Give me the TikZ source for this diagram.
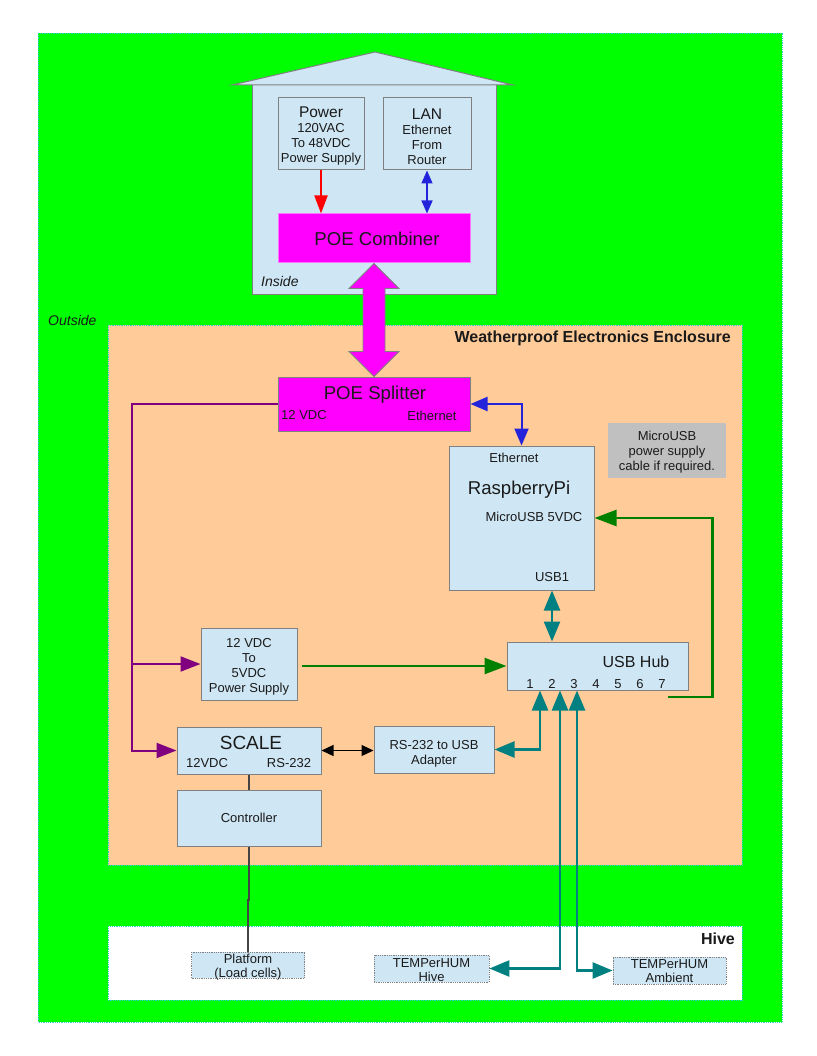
\documentclass[tikz,border=0pt]{standalone}
\usepackage{fontspec}
\setmainfont{Liberation Sans}
\usetikzlibrary{arrows.meta,calc}
\definecolor{bggreen}{HTML}{00FF00}
\definecolor{peach}{HTML}{FFCC99}
\definecolor{lblue}{HTML}{CFE7F5}
\definecolor{mag}{HTML}{FF00FF}
\definecolor{pinkb}{HTML}{FF77FF}
\definecolor{notec}{HTML}{C0C0C0}
\definecolor{purp}{HTML}{800080}
\definecolor{dgreen}{HTML}{008000}
\definecolor{tealc}{HTML}{008080}
\definecolor{blu}{HTML}{2323DC}
\definecolor{bord}{HTML}{808080}
\definecolor{dotc}{HTML}{33CCCC}
\definecolor{txt}{HTML}{1A1A1A}
\definecolor{glc}{HTML}{444444}
\newcommand\dgsm{\fontsize{13}{15}\selectfont}
\newcommand\dgtight{\fontsize{13}{14}\selectfont}
\newcommand\dgmd{\fontsize{15.5}{17}\selectfont}
\newcommand\dghub{\fontsize{16}{18}\selectfont}
\newcommand\dgbg{\fontsize{18.6}{22}\selectfont}
\newcommand\dgsc{\fontsize{19}{22}\selectfont}
\newcommand\dgit{\fontsize{14}{16}\selectfont\itshape}
\newcommand\dgbold{\fontsize{16}{18}\selectfont\bfseries}
\begin{document}
\begin{tikzpicture}[x=1pt,y=-1pt,
  box/.style={draw=bord, fill=lblue, line width=1pt, inner sep=0pt, align=center, font=\dgsm, text=txt},
  magbox/.style={draw=pinkb, fill=mag, line width=1pt, inner sep=0pt, text=txt},
  dbox/.style={draw=bord, densely dotted, fill=lblue, line width=0.8pt, inner sep=0pt, align=center, font=\dgtight, text=txt},
  lbl/.style={inner sep=0pt, font=\dgsm, text=txt, align=center},
  area/.style={draw=dotc, densely dotted, line width=0.8pt},
  redarr/.style={draw=red, line width=2pt, -{Triangle[length=18pt,width=13pt,fill=red]}},
  bluearr/.style={draw=blu, line width=1.5pt, {Triangle[length=13pt,width=11pt]}-{Triangle[length=13pt,width=11pt]}},
  bluebig/.style={draw=blu, line width=2pt, {Triangle[length=17pt,width=14pt]}-{Triangle[length=17pt,width=14pt]}},
  purarr/.style={draw=purp, line width=2pt, -{Triangle[length=20pt,width=15pt]}},
  grnarr/.style={draw=dgreen, line width=2.5pt, -{Triangle[length=22pt,width=16pt]}},
  tealarr/.style={draw=tealc, line width=2.5pt, {Triangle[length=20pt,width=16pt]}-{Triangle[length=20pt,width=16pt]}},
  blkarr/.style={draw=black, line width=1.2pt, {Triangle[length=12pt,width=11pt]}-{Triangle[length=12pt,width=11pt]}},
  gline/.style={draw=glc, line width=2pt}
]
\useasboundingbox (0,0) rectangle (816,1056);
\fill[white] (0,0) rectangle (816,1056);
% outside area
\draw[area, fill=bggreen] (38,33) rectangle (782,1022);
\node[lbl, font=\dgit, anchor=west] (outside) at (48,320) {Outside};
% house
\draw[draw=bord, fill=lblue, line width=1pt] (252,85) rectangle (496,294);
\draw[draw=bord, fill=lblue, line width=1pt] (232,85) -- (375,52) -- (513,85) -- cycle;
\node[box, minimum width=86pt, minimum height=72pt] (power) at (321,134) {};
\node[lbl] (powerT) at (321,136.5) {{\dgmd Power}\\120VAC\\To 48VDC\\Power Supply};
\node[box, minimum width=88pt, minimum height=72pt] (lan) at (427,134) {};
\node[lbl] (lanT) at (427,136.5) {{\dgmd LAN}\\Ethernet\\From\\Router};
\node[magbox, minimum width=192pt, minimum height=49pt, font=\dgbg] (comb) at (374,238.5) {\hspace{6pt}POE Combiner};
\node[lbl, font=\dgit, anchor=west] (inside) at (261,281) {Inside};
\draw[redarr] (power.south) -- (power.south |- comb.north);
\draw[bluearr] (lan.south) -- (lan.south |- comb.north);
% enclosure
\draw[area, fill=peach] (108,325) rectangle (742,865);
\node[lbl, font=\dgbold, anchor=north east] (enct) at (731,331) {Weatherproof Electronics Enclosure};
\node[magbox, draw=bord, minimum width=192pt, minimum height=54pt] (split) at (374,404) {};
\node[lbl, font=\dgbg] (splitT) at (375,395) {POE Splitter};
\node[lbl] (split12) at (304,415) {12 VDC};
\node[lbl] (splitE) at (432,416) {Ethernet};
% big double arrow
\draw[draw=bord, fill=mag, line width=0.8pt] (comb.south) -- ++(25,25) -- ++(-14,0)
  -- ($(split.north)+(11,-25)$) -- ++(14,0) -- (split.north) -- ++(-25,-25) -- ++(14,0)
  -- ($(comb.south)+(-11,25)$) -- ++(-14,0) -- cycle;
% note
\node[lbl, fill=notec, minimum width=118pt, minimum height=55pt] (note) at (667,450.5) {};
\node[lbl] (noteT) at (667,452) {MicroUSB\\power supply\\cable if required.};
% raspberry pi
\node[box, minimum width=145pt, minimum height=144pt] (rpi) at (521.5,518) {};
\node[lbl] (rpiE) at (514,458) {Ethernet};
\node[lbl, font=\dgbg] (rpiT) at (519,490) {RaspberryPi};
\node[lbl] (rpiM) at (534,517) {MicroUSB 5VDC};
\node[lbl] (rpiU) at (552,577) {USB1};
\draw[bluebig] (split.east) -| (rpi.north);
% usb hub
\node[box, minimum width=181pt, minimum height=48pt] (hub) at (597.5,666) {};
\node[lbl, font=\dghub] (hubT) at (636,662) {USB Hub};
\foreach \i/\x in {1/530,2/552,3/574,4/596,5/618,6/640,7/662}
  \node[lbl] (port\i) at (\x,684) {\i};
\draw[tealarr] (rpi.south -| rpiU) -- (hub.north -| rpiU);
\coordinate (g7) at (668,697);
\draw[grnarr] (g7) -| ($(rpi.east)+(118,0)$) -- (rpi.east);
% psu
\node[box, minimum width=96pt, minimum height=72pt] (psu) at (249,664) {};
\node[lbl] (psuT) at (249,667) {12 VDC\\To\\5VDC\\Power Supply};
\draw[grnarr, shorten <=4pt] (psu.east |- hub.west) -- (hub.west);
% scale
\node[box, minimum width=144pt, minimum height=47pt] (scale) at (249,750.5) {};
\node[lbl, font=\dgsc] (scT) at (251,743) {SCALE};
\node[lbl] (sc12) at (207,763) {12VDC};
\node[lbl] (scR) at (289,763) {RS-232};
\node[box, minimum width=120pt, minimum height=47pt] (rs) at (434,749.5) {};
\node[lbl] (rsT) at (434,753.5) {RS-232 to USB\\Adapter};
\draw[blkarr] (scale.east) -- (scale.east -| rs.west);
% purple power lines
\coordinate (pj) at (132,404);
\draw[purarr] (split.west) -- (pj) |- (scale.west);
\draw[purarr] (pj |- psu.west) -- (psu.west);
% controller
\node[box, minimum width=144pt, minimum height=56pt] (ctrl) at (249,818) {Controller};
\draw[gline] (scale.south) -- (ctrl.north);
% hive
\draw[area, fill=white] (108,926) rectangle (742,1000);
\node[lbl, font=\dgbold, anchor=north east] (hivet) at (735,933) {Hive};
\node[dbox, minimum width=113pt, minimum height=26pt] (plat) at (248,965) {};
\node[lbl, font=\dgtight] (platT) at (248,967) {Platform\\(Load cells)};
\node[dbox, minimum width=115pt, minimum height=27pt] (thive) at (431.5,968.5) {};
\node[lbl, font=\dgtight] (thiveT) at (431.5,970) {TEMPerHUM\\Hive};
\node[dbox, minimum width=113pt, minimum height=27pt] (tamb) at (669.5,970.5) {};
\node[lbl, font=\dgtight] (tambT) at (669.5,971.5) {TEMPerHUM\\Ambient};
\draw[gline] (ctrl.south) -- ++(0,53) -| (plat.north);
% teal usb lines
\path (hub.south) ++(-57.5,0) coordinate (u1) ++(20,0) coordinate (u2) ++(17,0) coordinate (u3);
\draw[tealarr] (rs.east) -| (u1);
\draw[tealarr] (u2) |- (thive.east);
\draw[tealarr] (u3) |- (tamb.west);
\end{tikzpicture}
\end{document}
